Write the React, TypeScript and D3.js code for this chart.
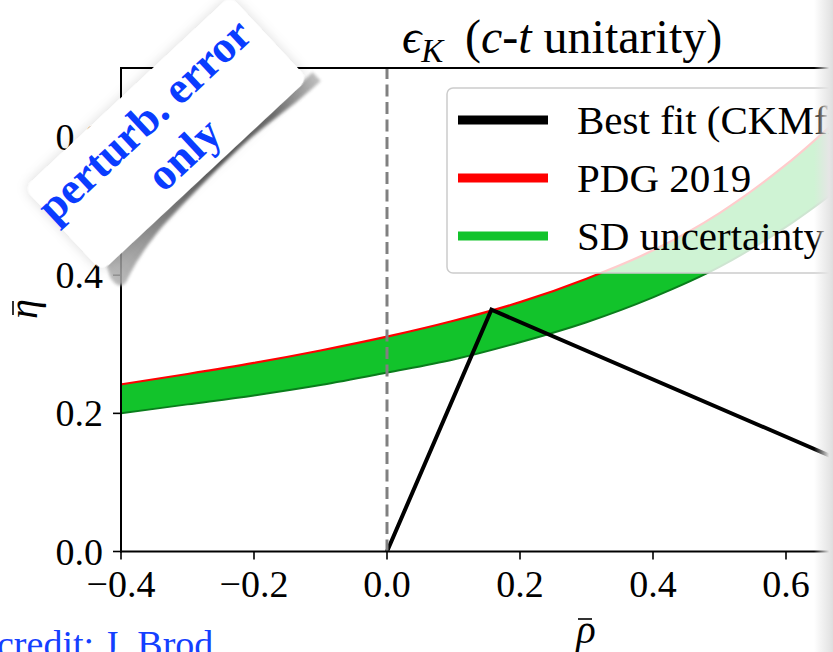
import React from 'react';
import * as d3 from 'd3';

// band (rho-bar grid, eta-bar values)
const rhoGrid = [-0.4, -0.3, -0.2, -0.1, 0.0, 0.1, 0.2, 0.3, 0.4, 0.5, 0.6, 0.7];
const pdgUpper = [0.242, 0.257, 0.273, 0.291, 0.311, 0.334, 0.361, 0.395, 0.436, 0.49, 0.56, 0.645];
const sdLower = [0.2, 0.213, 0.226, 0.241, 0.259, 0.278, 0.303, 0.332, 0.368, 0.412, 0.47, 0.54];

// unitarity triangle of the best fit
const bestFitRho = [0, 0.157, 1.0];
const bestFitEta = [0, 0.35, 0];

const xTicks = [-0.4, -0.2, 0.0, 0.2, 0.4, 0.6, 0.8];
const yTicks = [0.0, 0.2, 0.4, 0.6];

const legendLabels = ['Best fit (CKMfitter)', 'PDG 2019', 'SD uncertainty'];
const legendColors = ['#000000', '#ff0000', '#12c32b'];

const W = 833;
const H = 652;
const serif = '"Liberation Serif", "Times New Roman", serif';

const fmt = (v: number) => (v < 0 ? '\u2212' : '') + Math.abs(v).toFixed(1);

export default function App() {
  const x = d3.scaleLinear().domain([-0.4, 1.0]).range([121, 1052]);
  const y = d3.scaleLinear().domain([0, 0.7]).range([551.5, 68]);
  const clipRight = 829;

  const bandPts = rhoGrid.map((r, i) => ({ r, lo: sdLower[i], hi: pdgUpper[i] }));
  const band = d3.area<any>()
    .x(d => x(d.r))
    .y0(d => y(d.lo))
    .y1(d => y(d.hi))
    .curve(d3.curveMonotoneX);
  const upperLine = d3.line<any>().x(d => x(d.r)).y(d => y(d.hi)).curve(d3.curveMonotoneX);
  const lowerLine = d3.line<any>().x(d => x(d.r)).y(d => y(d.lo)).curve(d3.curveMonotoneX);
  const fitLine = d3.line<number>()
    .x(d => x(bestFitRho[d]))
    .y(d => y(bestFitEta[d]));

  const legendY = (i: number) => 120 + i * 58;

  return (
    <svg width={W} height={H} style={{ position: 'absolute', left: 0, top: 0, background: '#fff' }}
      fontFamily={serif}>
      <defs>
        <clipPath id="plotClip">
          <rect x={x(-0.4)} y={y(0.7)} width={clipRight - x(-0.4)} height={y(0) - y(0.7)} />
        </clipPath>
        <linearGradient id="edgeFade" x1="0" x2="1" y1="0" y2="0">
          <stop offset="0" stopColor="#e4e4e4" stopOpacity="0" />
          <stop offset="0.8" stopColor="#e6e6e6" stopOpacity="1" />
          <stop offset="1" stopColor="#dedede" stopOpacity="1" />
        </linearGradient>
        <filter id="softShadow" x="-30%" y="-60%" width="160%" height="220%">
          <feDropShadow dx="0" dy="0" stdDeviation="6" floodColor="#000" floodOpacity="0.14" />
        </filter>
        <filter id="blur2" x="-20%" y="-100%" width="140%" height="300%">
          <feGaussianBlur stdDeviation="1.8" />
        </filter>
        <linearGradient id="streak" x1="0" x2="1" y1="0" y2="0">
          <stop offset="0" stopColor="#b0b0b0" />
          <stop offset="0.3" stopColor="#6a6a6a" />
          <stop offset="0.55" stopColor="#3c3c3c" />
          <stop offset="0.8" stopColor="#5a5a5a" />
          <stop offset="1" stopColor="#b4b4b4" />
        </linearGradient>
      </defs>

      {/* data */}
      <g clipPath="url(#plotClip)">
        <path d={band(bandPts) || ''} fill="#12c32b" />
        <path d={lowerLine(bandPts) || ''} fill="none" stroke="#0a7d1c" strokeWidth={2} />
        <path d={upperLine(bandPts) || ''} fill="none" stroke="#ff0000" strokeWidth={2.2} />
        <path d={fitLine([0, 1, 2]) || ''} fill="none" stroke="#000" strokeWidth={4} strokeLinejoin="miter" />
        <line x1={x(0)} x2={x(0)} y1={y(0)} y2={y(0.7)} stroke="#808080" strokeWidth={3} strokeDasharray="12,5.5" />
      </g>

      {/* spines */}
      <g stroke="#000" strokeWidth={2} fill="none">
        <line x1={x(-0.4)} x2={x(-0.4)} y1={y(0) + 1} y2={y(0.7) - 1} />
        <line x1={x(-0.4) - 1} x2={clipRight} y1={y(0)} y2={y(0)} />
        <line x1={x(-0.4) - 1} x2={clipRight} y1={y(0.7)} y2={y(0.7)} />
      </g>

      {/* x ticks */}
      {xTicks.filter(t => x(t) < clipRight).map(t => (
        <g key={'x' + t}>
          <line x1={x(t)} x2={x(t)} y1={y(0)} y2={y(0) + 8} stroke="#000" strokeWidth={1.6} />
          <text x={x(t)} y={597} fontSize={38} textAnchor="middle">{fmt(t)}</text>
        </g>
      ))}

      {/* y ticks */}
      {yTicks.map(t => (
        <g key={'y' + t}>
          <line x1={x(-0.4) - 8} x2={x(-0.4)} y1={y(t)} y2={y(t)} stroke="#000" strokeWidth={1.6} />
          <text x={103} y={y(t) + 13} fontSize={38} textAnchor="end">{fmt(t)}</text>
        </g>
      ))}

      {/* axis labels: rho-bar and eta-bar */}
      <g transform="translate(586,643)">
        <text x={0} y={0} fontSize={40} fontStyle="italic" textAnchor="middle">{'\u03C1'}</text>
        <line x1={-8} x2={6} y1={-24} y2={-24} stroke="#000" strokeWidth={1.6} />
      </g>
      <g transform="translate(37,309) rotate(-90)">
        <text x={0} y={0} fontSize={40} fontStyle="italic" textAnchor="middle">{'\u03B7'}</text>
        <line x1={-6} x2={8} y1={-24} y2={-24} stroke="#000" strokeWidth={1.6} />
      </g>

      {/* title */}
      <text x={402} y={53} fontSize={48}>
        <tspan fontStyle="italic">{'\u03F5'}</tspan>
        <tspan fontStyle="italic" fontSize={33} dy={9}>K</tspan>
        <tspan dy={-9}>{' \u2009('}</tspan>
        <tspan fontStyle="italic">c</tspan>
        <tspan>-</tspan>
        <tspan fontStyle="italic">t</tspan>
        <tspan>{' unitarity)'}</tspan>
      </text>

      {/* legend */}
      <rect x={447} y={88} width={420} height={185} rx={6} fill="#fff" fillOpacity={0.8}
        stroke="#cccccc" strokeWidth={1.5} />
      {legendLabels.map((lab, i) => (
        <g key={lab}>
          <line x1={458} x2={548} y1={legendY(i)} y2={legendY(i)} stroke={legendColors[i]} strokeWidth={9} />
          <text x={577} y={legendY(i) + 14} fontSize={41}>{lab}</text>
        </g>
      ))}

      {/* cropped page edge */}
      <rect x={814} y={0} width={W - 814} height={H} fill="url(#edgeFade)" />

      {/* credit */}
      <text x={-3} y={657} fontSize={38} fill="#1440ff">credit: J. Brod</text>

      {/* sticker */}
      <g transform="translate(166,135) rotate(-43)">
        <path d="M-132,54 L150,54 L150,66 C120,66 95,62 60,60 C20,59 -20,61 -60,64 C-90,67 -115,74 -128,80 C-136,82 -140,78 -138,66 Z"
          fill="url(#streak)" filter="url(#blur2)" opacity={0.85} />
        <rect x={-140} y={-58} width={282} height={114} rx={10} fill="#fff" filter="url(#softShadow)" />
        <text x={-6} y={-11} fontSize={45} fontWeight="bold" fill="#0a3cff" textAnchor="middle">perturb. error</text>
        <text x={0} y={41} fontSize={45} fontWeight="bold" fill="#0a3cff" textAnchor="middle">only</text>
      </g>
    </svg>
  );
}
